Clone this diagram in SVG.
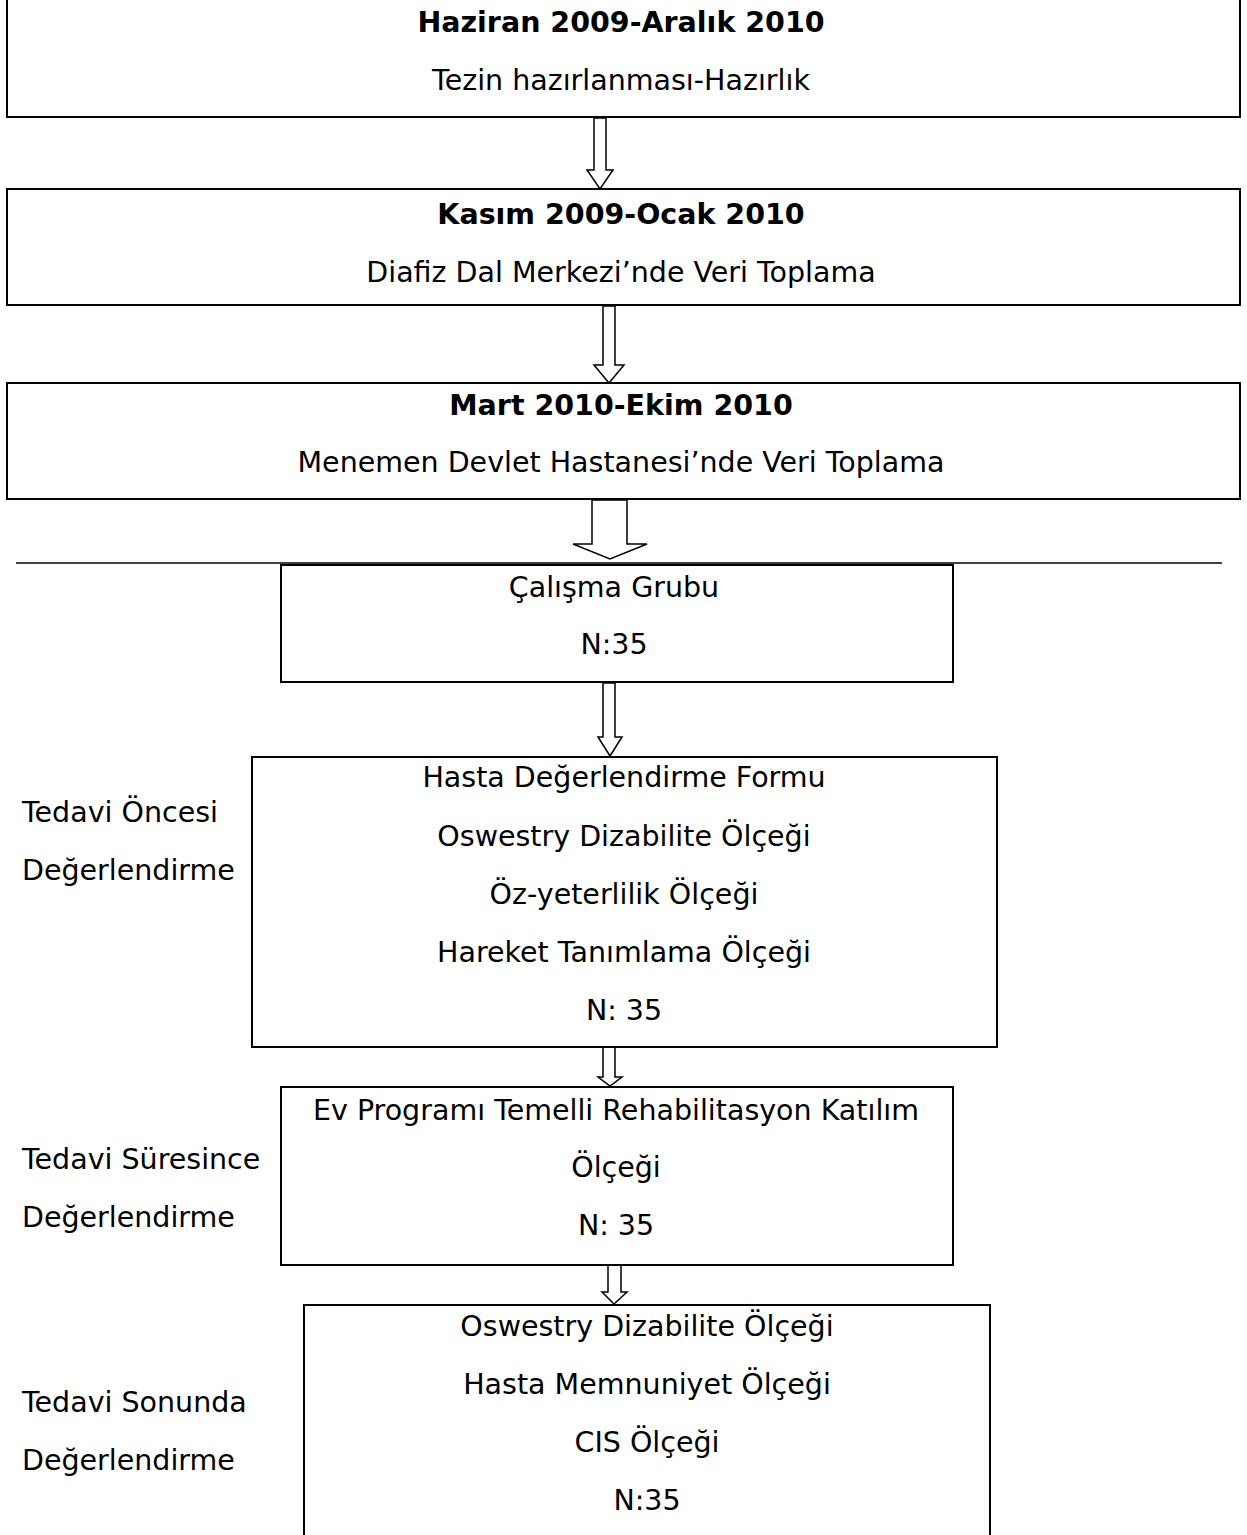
<svg xmlns="http://www.w3.org/2000/svg" width="1247" height="1535" viewBox="0 0 1247 1535">
<style>
.box{fill:#fff;stroke:#000;stroke-width:2}
.arr{fill:#fff;stroke:#000;stroke-width:1.5;stroke-linejoin:miter}
text{font-family:"DejaVu Sans",sans-serif;font-size:28.5px;fill:#000}
.c{text-anchor:middle}
.b{font-weight:bold}
</style>
<rect width="1247" height="1535" fill="#fff"/>
<g id="connectors">
<polygon class="arr" points="594,118 606,118 606,170 613,170 600,189 587,170 594,170"/>
<polygon class="arr" points="603,306 615,306 615,365 624,365 609,383 594,365 603,365"/>
<polygon class="arr" points="592,500 627,500 627,544 647,544 610,559 573,544 592,544"/>
<line x1="16" y1="563" x2="1222" y2="563" stroke="#000" stroke-width="1.5"/>
<polygon class="arr" points="603,683 615,683 615,737 622,737 610,756 598,737 603,737"/>
<polygon class="arr" points="603,1044 615,1044 615,1077 622,1077 610,1086 598,1077 603,1077"/>
<polygon class="arr" points="608,1255 621,1255 621,1292 627,1292 614,1304 602,1292 608,1292"/>
</g>
<g id="n1">
<rect class="box" x="7" y="-10" width="1233" height="127"/>
<text class="c b" x="621" y="32">Haziran 2009-Aralık 2010</text>
<text class="c" x="621" y="90">Tezin hazırlanması-Hazırlık</text>
</g>
<g id="n2">
<rect class="box" x="7" y="189" width="1233" height="116"/>
<text class="c b" x="621" y="224">Kasım 2009-Ocak 2010</text>
<text class="c" x="621" y="282">Diafiz Dal Merkezi’nde Veri Toplama</text>
</g>
<g id="n3">
<rect class="box" x="7" y="383" width="1233" height="116"/>
<text class="c b" x="621" y="415">Mart 2010-Ekim 2010</text>
<text class="c" x="621" y="472">Menemen Devlet Hastanesi’nde Veri Toplama</text>
</g>
<g id="n4">
<rect class="box" x="281" y="565" width="672" height="117"/>
<text class="c" x="614" y="597">Çalışma Grubu</text>
<text class="c" x="614" y="654">N:35</text>
</g>
<g id="n5">
<rect class="box" x="252" y="757" width="745" height="290"/>
<text class="c" x="624" y="787">Hasta Değerlendirme Formu</text>
<text class="c" x="624" y="846">Oswestry Dizabilite Ölçeği</text>
<text class="c" x="624" y="904">Öz-yeterlilik Ölçeği</text>
<text class="c" x="624" y="962">Hareket Tanımlama Ölçeği</text>
<text class="c" x="624" y="1020">N: 35</text>
</g>
<g id="l5">
<text x="22" y="822">Tedavi Öncesi</text>
<text x="22" y="880">Değerlendirme</text>
</g>
<g id="n6">
<rect class="box" x="281" y="1087" width="672" height="178"/>
<text class="c" x="616" y="1120">Ev Programı Temelli Rehabilitasyon Katılım</text>
<text class="c" x="616" y="1177">Ölçeği</text>
<text class="c" x="616" y="1235">N: 35</text>
</g>
<g id="l6">
<text x="22" y="1169">Tedavi Süresince</text>
<text x="22" y="1227">Değerlendirme</text>
</g>
<g id="n7">
<rect class="box" x="304" y="1305" width="686" height="250"/>
<text class="c" x="647" y="1336">Oswestry Dizabilite Ölçeği</text>
<text class="c" x="647" y="1394">Hasta Memnuniyet Ölçeği</text>
<text class="c" x="647" y="1452">CIS Ölçeği</text>
<text class="c" x="647" y="1510">N:35</text>
</g>
<g id="l7">
<text x="22" y="1412">Tedavi Sonunda</text>
<text x="22" y="1470">Değerlendirme</text>
</g>
</svg>
